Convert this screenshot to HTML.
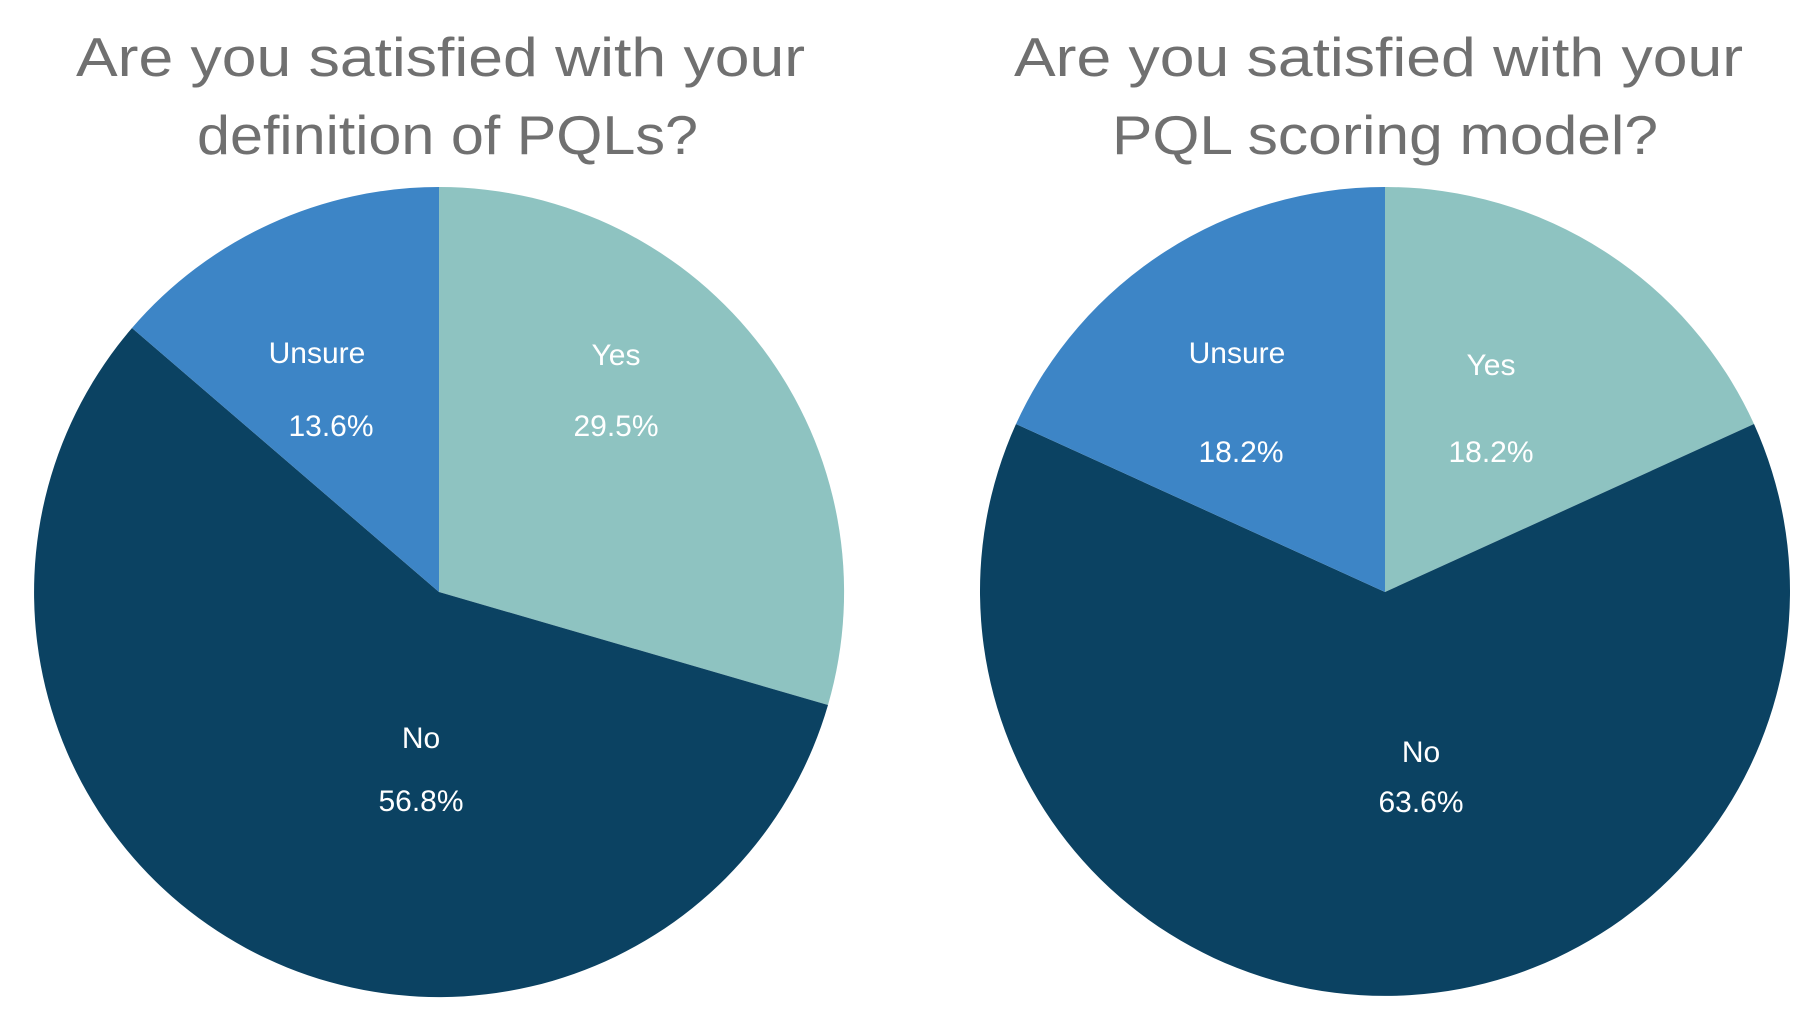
<!DOCTYPE html>
<html><head><meta charset="utf-8"><style>
html,body{margin:0;padding:0;background:#fff;}
svg{display:block;}
</style></head><body>
<svg width="1816" height="1025" viewBox="0 0 1816 1025" xmlns="http://www.w3.org/2000/svg">
<g font-family="Liberation Sans, sans-serif" fill="#707070" font-size="55" text-anchor="start">
<text x="76" y="76" textLength="729" lengthAdjust="spacingAndGlyphs">Are you satisfied with your</text>
<text x="197" y="154" textLength="501" lengthAdjust="spacingAndGlyphs">definition of PQLs?</text>
<text x="1014" y="76" textLength="729" lengthAdjust="spacingAndGlyphs">Are you satisfied with your</text>
<text x="1112" y="154" textLength="546" lengthAdjust="spacingAndGlyphs">PQL scoring model?</text>
</g>
<path d="M439,592 L439,187 A405,405 0 0 1 828,705 Z" fill="#8ec3c1"/>
<path d="M439,592 L828,705 A405,405 0 1 1 132,328 Z" fill="#0b4262"/>
<path d="M439,592 L132,328 A405,405 0 0 1 439,187 Z" fill="#3d85c6"/>
<path d="M1385,592 L1385,187 A405,405 0 0 1 1754,424 Z" fill="#8ec3c1"/>
<path d="M1385,592 L1754,424 A405,405 0 1 1 1016,424 Z" fill="#0b4262"/>
<path d="M1385,592 L1016,424 A405,405 0 0 1 1385,187 Z" fill="#3d85c6"/>
<g font-family="Liberation Sans, sans-serif" fill="#fff" font-size="30" text-anchor="middle">
<text x="317" y="363">Unsure</text>
<text x="331" y="436">13.6%</text>
<text x="616" y="365">Yes</text>
<text x="616" y="436">29.5%</text>
<text x="421" y="748">No</text>
<text x="421" y="811">56.8%</text>
<text x="1237" y="363">Unsure</text>
<text x="1241" y="462">18.2%</text>
<text x="1491" y="375">Yes</text>
<text x="1491" y="462">18.2%</text>
<text x="1421" y="762">No</text>
<text x="1421" y="812">63.6%</text>
</g>
</svg>
</body></html>
